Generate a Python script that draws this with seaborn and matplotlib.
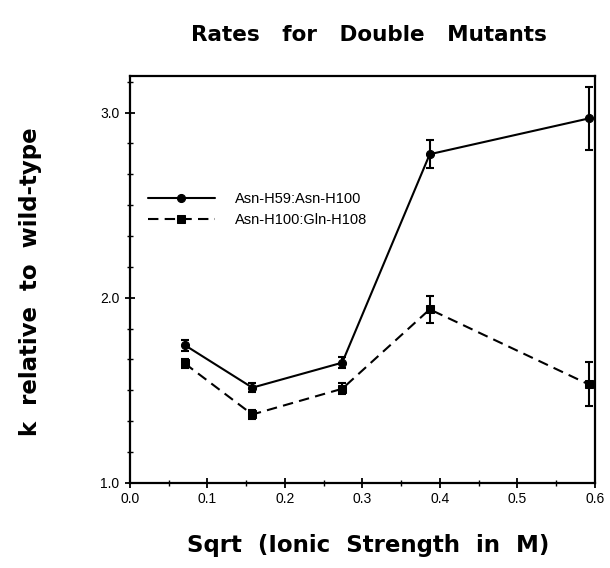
import matplotlib
matplotlib.use("Agg")
import matplotlib.pyplot as plt
from matplotlib.ticker import MultipleLocator, AutoMinorLocator, FormatStrFormatter
import seaborn as sns
import pandas as pd

x_vals = [0.0707, 0.158, 0.274, 0.387, 0.592]
series_names = ["Asn-H59:Asn-H100", "Asn-H100:Gln-H108"]
y_s1 = [1.744, 1.514, 1.649, 2.775, 2.968]
err_s1 = [0.030, 0.025, 0.030, 0.077, 0.170]
y_s2 = [1.645, 1.369, 1.508, 1.937, 1.532]
err_s2 = [0.025, 0.025, 0.030, 0.072, 0.118]

title = "Rates   for   Double   Mutants"
xlabel = "Sqrt  (Ionic  Strength  in  M)"
ylabel = "k  relative  to  wild-type"

sns.set_theme(style="ticks")
plt.rcParams['font.family'] = ['Liberation Sans', 'DejaVu Sans']
plt.rcParams['text.color'] = 'black'
plt.rcParams['axes.labelcolor'] = 'black'
plt.rcParams['xtick.color'] = 'black'
plt.rcParams['ytick.color'] = 'black'

df = pd.DataFrame({
    "x": x_vals + x_vals,
    "y": y_s1 + y_s2,
    "series": [series_names[0]] * len(x_vals) + [series_names[1]] * len(x_vals),
})

fig = plt.figure(figsize=(6.1, 5.68), dpi=100)
ax = fig.add_axes([0.213, 0.150, 0.762, 0.717])

sns.lineplot(data=df, x="x", y="y", hue="series", style="series",
             markers={series_names[0]: "o", series_names[1]: "s"},
             dashes={series_names[0]: "", series_names[1]: (5, 3)},
             palette={series_names[0]: "black", series_names[1]: "black"},
             markersize=5.8, linewidth=1.5, markeredgecolor="black",
             ax=ax, legend=True)

ax.errorbar(x_vals, y_s1, yerr=err_s1, fmt="none", ecolor="black",
            elinewidth=1.5, capsize=3, capthick=1.5)
ax.errorbar(x_vals, y_s2, yerr=err_s2, fmt="none", ecolor="black",
            elinewidth=1.5, capsize=3, capthick=1.5)

ax.set_xlim(0.0, 0.6)
ax.set_ylim(1.0, 3.2)
ax.xaxis.set_major_locator(MultipleLocator(0.1))
ax.xaxis.set_minor_locator(MultipleLocator(0.05))
ax.yaxis.set_major_locator(MultipleLocator(1.0))
ax.yaxis.set_minor_locator(AutoMinorLocator(6))
ax.xaxis.set_major_formatter(FormatStrFormatter("%.1f"))
ax.yaxis.set_major_formatter(FormatStrFormatter("%.1f"))
ax.tick_params(axis="both", which="major", direction="inout", length=7,
               width=1.3, labelsize=10, colors="black", pad=4)
ax.tick_params(axis="both", which="minor", direction="inout", length=4,
               width=1.0)
ax.tick_params(axis="x", pad=3)

for s in ax.spines.values():
    s.set_visible(True)
    s.set_linewidth(1.6)
    s.set_color("black")

ax.set_xlabel(xlabel, fontsize=16.5, fontweight="bold", family="DejaVu Sans")
ax.set_ylabel(ylabel, fontsize=16.5, fontweight="bold", family="DejaVu Sans")
ax.xaxis.set_label_coords(0.512, -0.155)
ax.xaxis.label.set_va("center")
ax.yaxis.set_label_coords(-0.213, 0.493)
ax.yaxis.label.set_va("center")
fig.text(0.605, 0.938, title, ha="center", va="center",
         fontsize=15.5, fontweight="bold", family="DejaVu Sans")

leg = ax.legend(loc="upper left", bbox_to_anchor=(0.01, 0.747), frameon=False,
                fontsize=10.5, handlelength=4.6, handletextpad=1.4,
                labelspacing=0.5)
for h in leg.legend_handles:
    h.set_color("black")

fig.savefig("out.png", dpi=100, facecolor="white")
